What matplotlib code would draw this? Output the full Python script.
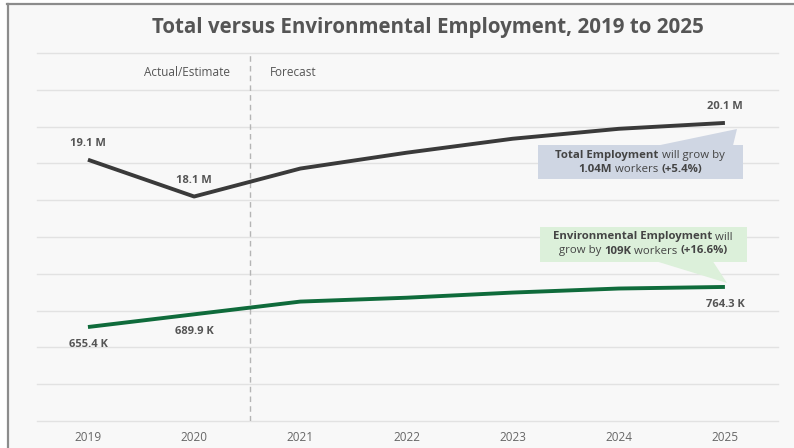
import matplotlib
matplotlib.use("Agg")
import matplotlib.pyplot as plt
from matplotlib.patches import Polygon, Rectangle
from matplotlib.lines import Line2D

years = [2019, 2020, 2021, 2022, 2023, 2024, 2025]
total_millions = [19.1, 18.1, 18.86, 19.29, 19.67, 19.94, 20.1]
env_thousands = [655.4, 689.9, 724.5, 735.0, 749.0, 760.0, 764.3]
total_labels = {2019: "19.1 M", 2020: "18.1 M", 2025: "20.1 M"}
env_labels = {2019: "655.4 K", 2020: "689.9 K", 2025: "764.3 K"}
title = "Total versus Environmental Employment, 2019 to 2025"

W, H = 794, 448
plt.rcParams['font.family'] = ['Open Sans', 'DejaVu Sans']
fig = plt.figure(figsize=(W / 100, H / 100), dpi=100)
fig.patch.set_facecolor("white")

def fx(px):
    return px / W

def fy(py):
    return 1 - py / H

# panel background and border
fig.patches.append(Rectangle((fx(7), 0), 1 - fx(7), fy(4), transform=fig.transFigure,
                             facecolor="#f8f8f8", edgecolor="none", zorder=-10))
fig.lines.append(Line2D([fx(7), 1], [fy(4.5), fy(4.5)], transform=fig.transFigure,
                        color="#8c8c8c", lw=1.6, zorder=-9))
fig.lines.append(Line2D([fx(7.5), fx(7.5)], [0, fy(4)], transform=fig.transFigure,
                        color="#8c8c8c", lw=1.6, zorder=-9))

left, right, top, bottom = 37, 778, 53, 421
ax = fig.add_axes([fx(left), fy(bottom), fx(right) - fx(left), fy(top) - fy(bottom)])
ax.set_facecolor("none")
ax.set_xlim(2018.52, 2025.5)
ax.set_ylim(12, 22)
ax.set_yticks(range(12, 23))
ax.yaxis.grid(True, color="#e2e2e2", lw=1, clip_on=False)
ax.set_axisbelow(True)
for s in ax.spines.values():
    s.set_visible(False)
ax.set_xticks(years)
ax.set_xticklabels([str(y) for y in years])
ax.tick_params(axis="x", bottom=False, labelsize=8.5, labelcolor="#666666", pad=4)

ax2 = ax.twinx()
ax2.set_ylim(400, 1400)
for s in ax2.spines.values():
    s.set_visible(False)
ax.tick_params(axis="y", left=False, right=False, labelleft=False, labelright=False)
ax2.tick_params(axis="y", left=False, right=False, labelleft=False, labelright=False)

ax.plot(years, total_millions, color="#3a3a3a", lw=2.8, solid_capstyle="butt", zorder=5)
ax2.plot(years, env_thousands, color="#0f6b3b", lw=2.8, solid_capstyle="butt", zorder=5)

ax.axvline(2020.53, color="#b5b5b5", lw=1, ls=(0, (4, 3)), zorder=1)
fig.text(fx(187), fy(73), "Actual/Estimate", ha="center", va="center", fontsize=8.5, color="#555555")
fig.text(fx(270), fy(73), "Forecast", ha="left", va="center", fontsize=8.5, color="#555555")

lab_kw = dict(ha="center", va="center", fontsize=8, fontweight="bold", color="#555555")
for y, v in zip(years, total_millions):
    if y in total_labels:
        ax.annotate(total_labels[y], (y, v), xytext=(0, 11.5), textcoords="offset points", **lab_kw)
for y, v in zip(years, env_thousands):
    if y in env_labels:
        ax2.annotate(env_labels[y], (y, v), xytext=(0, -12.5), textcoords="offset points", **lab_kw)

fig.text(fx(428), fy(27), title, ha="center", va="center", fontsize=14.8, fontweight="bold",
         color="#555555")

# callout boxes
def box(x0, y0, x1, y1, tri, color):
    fig.patches.append(Rectangle((fx(x0), fy(y1)), fx(x1) - fx(x0), fy(y0) - fy(y1),
                                 transform=fig.transFigure, facecolor=color, edgecolor="none", zorder=3))
    fig.patches.append(Polygon([(fx(a), fy(b)) for a, b in tri], closed=True,
                               transform=fig.transFigure, facecolor=color, edgecolor="none", zorder=3))

box(538, 145, 743, 179, [(658, 145.5), (733, 145.5), (737, 129)], "#cfd6e3")
box(540, 227, 747, 262, [(657, 261.5), (713, 261.5), (727, 283)], "#dcf0da")

renderer = fig.canvas.get_renderer()

def rich_line(segments, cx, cy, size=8.2):
    arts = []
    for s, w in segments:
        t = fig.text(0, fy(cy), s, fontsize=size, fontweight=w, color="#444444",
                     ha="left", va="center", zorder=6)
        arts.append(t)
    widths = [a.get_window_extent(renderer).width for a in arts]
    total = sum(widths)
    x = cx - total / 2
    for a, w in zip(arts, widths):
        a.set_x(fx(x))
        x += w

rich_line([("Total Employment", "bold"), (" will grow by", "normal")], 640, 155.5)
rich_line([("1.04M", "bold"), (" workers ", "normal"), ("(+5.4%)", "bold")], 640, 169.5)
rich_line([("Environmental Employment", "bold"), (" will", "normal")], 643, 237)
rich_line([("grow by ", "normal"), ("109K", "bold"), (" workers ", "normal"), ("(+16.6%)", "bold")], 643, 251)

fig.savefig("out.png", dpi=100, facecolor="white")
